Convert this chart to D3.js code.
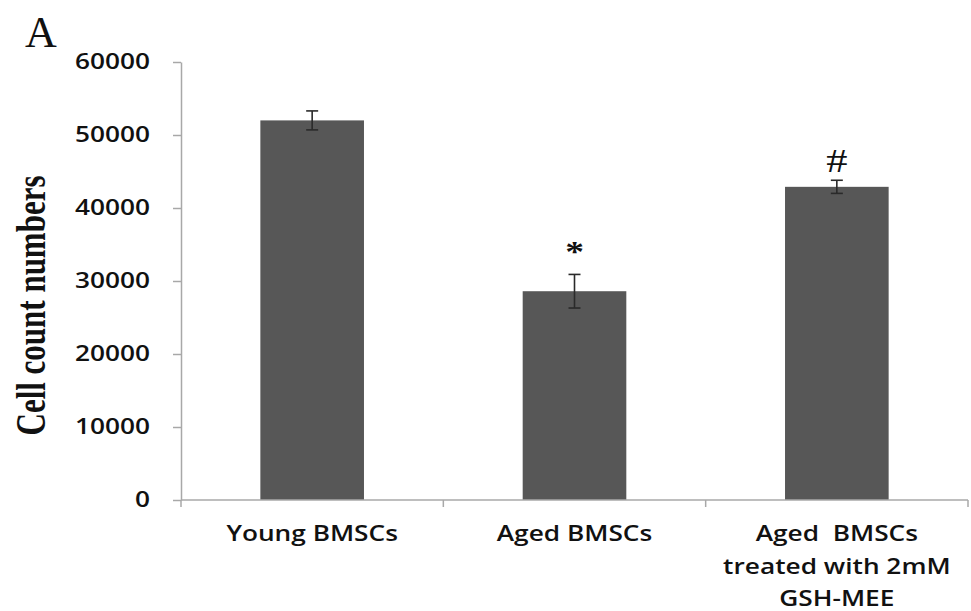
<!DOCTYPE html>
<html>
<head>
<meta charset="utf-8">
<script src="https://cdn.jsdelivr.net/npm/d3@7"></script>
<style>
  html, body { margin: 0; padding: 0; background: #fff; }
  svg { display: block; }
</style>
</head>
<body>
<svg id="chart" width="971" height="611"></svg>
<script>
// ---- data ----
const categories = ["Young BMSCs", "Aged BMSCs", "Aged  BMSCs treated with 2mM GSH-MEE"];
const categoryLines = [["Young BMSCs"], ["Aged BMSCs"], ["Aged  BMSCs", "treated with 2mM", "GSH-MEE"]];
const values = [52000, 28600, 42900];
const errors = [1300, 2300, 900];
const marks = ["", "*", "#"];
const yTicks = [0, 10000, 20000, 30000, 40000, 50000, 60000];
const yTitle = "Cell count numbers";
const panelLabel = "A";

// ---- layout ----
const svg = d3.select("#chart");
const plotLeft = 181, plotRight = 968, plotTop = 62, plotBottom = 500;
const sx = 1.25; // horizontal text stretch of the original figure

const y = d3.scaleLinear().domain([0, 60000]).range([plotBottom, plotTop]);
const x = d3.scaleBand().domain(categories).range([plotLeft, plotRight]).padding(0);
const barW = x.bandwidth() * 0.395;

// y axis
const yAxis = svg.append("g")
  .attr("transform", `translate(${plotLeft},0)`)
  .call(d3.axisLeft(y).tickValues(yTicks).tickFormat(d3.format("d")).tickSize(8).tickSizeOuter(0));
yAxis.select(".domain").attr("stroke", "#a8a8a8").attr("stroke-width", 1.5);
yAxis.selectAll(".tick line").attr("stroke", "#a8a8a8").attr("stroke-width", 1.5);
yAxis.selectAll(".tick text")
  .attr("x", -31 / sx)
  .attr("transform", `scale(${sx},1)`)
  .attr("font-family", "'Open Sans', sans-serif")
  .attr("font-weight", 600)
  .attr("font-size", 21)
  .attr("fill", "#111");

// bars
const bars = svg.append("g");
bars.selectAll("rect").data(categories).join("rect")
  .attr("x", (d) => x(d) + x.bandwidth() / 2 - barW / 2)
  .attr("y", (d, i) => y(values[i]))
  .attr("width", barW)
  .attr("height", (d, i) => y(0) - y(values[i]))
  .attr("fill", "#575757");

// x axis
const xAxisG = svg.append("g").attr("transform", `translate(0,${plotBottom})`);
xAxisG.append("line").attr("x1", plotLeft).attr("x2", plotRight).attr("y1", 0).attr("y2", 0)
  .attr("stroke", "#a8a8a8").attr("stroke-width", 1.5);
const edges = categories.map((d) => x(d)).concat([x(categories[categories.length - 1]) + x.bandwidth()]);
xAxisG.selectAll("line.tk").data(edges).join("line").attr("class", "tk")
  .attr("x1", (d) => d).attr("x2", (d) => d).attr("y1", 0).attr("y2", 7)
  .attr("stroke", "#a8a8a8").attr("stroke-width", 1.5);

// error bars
const eb = svg.append("g").attr("stroke", "#2a2a2a").attr("stroke-width", 1.6);
categories.forEach((c, i) => {
  const cx = x(c) + x.bandwidth() / 2;
  eb.append("line").attr("x1", cx).attr("x2", cx)
    .attr("y1", y(values[i] + errors[i])).attr("y2", y(values[i] - errors[i]));
  [values[i] + errors[i], values[i] - errors[i]].forEach((v) => {
    eb.append("line").attr("x1", cx - 6).attr("x2", cx + 6).attr("y1", y(v)).attr("y2", y(v));
  });
});

// significance marks
categories.forEach((c, i) => {
  if (!marks[i]) return;
  const cx = x(c) + x.bandwidth() / 2;
  const isStar = marks[i] === "*";
  const yy = y(values[i] + errors[i]) - (isStar ? 13 : 8);
  svg.append("text")
    .attr("transform", `translate(${cx},${yy}) scale(${sx},1)`)
    .attr("text-anchor", "middle")
    .attr("font-family", "'Liberation Serif', serif")
    .attr("font-weight", isStar ? "bold" : "normal")
    .attr("font-size", isStar ? 30 : 34)
    .attr("fill", "#111")
    .text(marks[i]);
});

// category labels
categories.forEach((c, i) => {
  const cx = x(c) + x.bandwidth() / 2;
  categoryLines[i].forEach((line, j) => {
    svg.append("text")
      .attr("transform", `translate(${cx},${541 + j * 32.5}) scale(${sx},1)`)
      .attr("text-anchor", "middle")
      .attr("font-family", "'Open Sans', sans-serif")
      .attr("font-weight", 600)
      .attr("font-size", 21)
      .attr("fill", "#111")
      .style("white-space", "pre")
      .text(line);
  });
});

// y title
svg.append("text")
  .attr("transform", `translate(45,${(173 + 438) / 2}) scale(1.38,1) rotate(-90)`)
  .attr("text-anchor", "middle")
  .attr("font-family", "'Liberation Serif', serif")
  .attr("font-weight", "bold")
  .attr("font-size", 31)
  .attr("fill", "#111")
  .text(yTitle);

// panel label
svg.append("text")
  .attr("x", 25).attr("y", 47)
  .attr("font-family", "'Liberation Serif', serif")
  .attr("font-size", 44)
  .attr("fill", "#111")
  .text(panelLabel);
</script>
</body>
</html>
